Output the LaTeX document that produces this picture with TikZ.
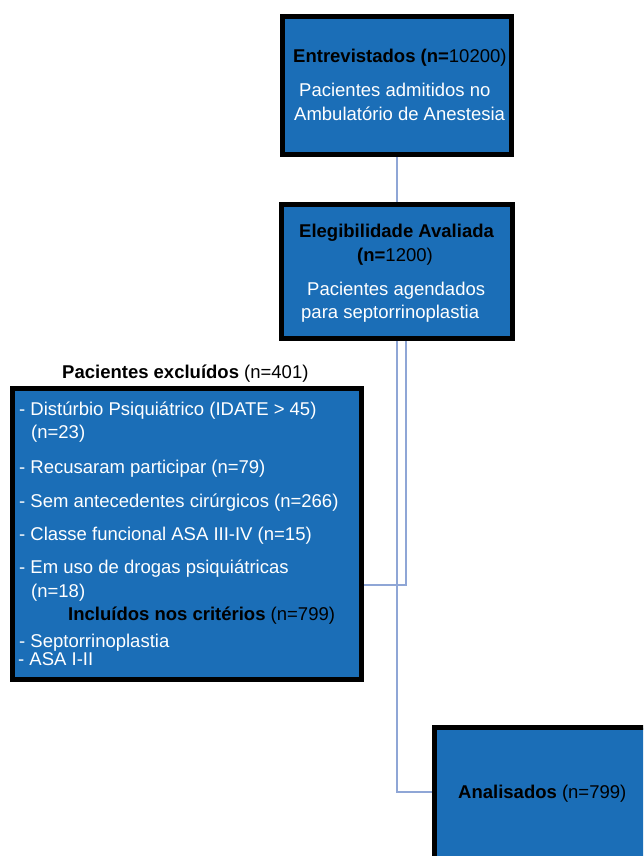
\documentclass[tikz,border=0pt]{standalone}
\usepackage{fontspec}
\setmainfont{Liberation Sans}
\usetikzlibrary{backgrounds}
\definecolor{boxblue}{RGB}{27,110,183}
\definecolor{linkblue}{RGB}{143,166,214}
\begin{document}
\begin{tikzpicture}[x=1pt,y=-1pt,
  flowbox/.style={draw=black,line width=5pt,fill=boxblue,inner sep=0pt},
  wtxt/.style={anchor=base west,inner sep=0pt,text=white,font=\fontsize{18.5}{23}\selectfont},
  ktxt/.style={anchor=base west,inner sep=0pt,text=black,font=\fontsize{18.5}{23}\selectfont},
  link/.style={draw=linkblue,line width=1.2pt}]
\useasboundingbox (0,0) rectangle (643,856);
\clip (0,0) rectangle (643,856);
% boxes
\node[flowbox,minimum width=229pt,minimum height=138pt] (b1) at (397,85.5) {};
\node[flowbox,minimum width=231pt,minimum height=134pt] (b2) at (397,271.5) {};
\node[flowbox,minimum width=349pt,minimum height=291pt] (b3) at (187,534) {};
\node[flowbox,minimum width=300pt,minimum height=200pt] (b4) at (584.5,827.5) {};
% box 1 text
\node[ktxt] (t1a) at (293,63) {\textbf{Entrevistados (n=}10200)};
\node[wtxt] (t1b) at (299,97) {Pacientes admitidos no};
\node[wtxt] (t1c) at (294,121) {Ambulatório de Anestesia};
% box 2 text
\node[ktxt] (t2a) at (299,237) {\textbf{Elegibilidade Avaliada}};
\node[ktxt] (t2b) at (357,261) {\textbf{(n=}1200)};
\node[wtxt] (t2c) at (307,295) {Pacientes agendados};
\node[wtxt] (t2d) at (301,318) {para septorrinoplastia};
% box 3 text
\node[ktxt] (t3h) at (62,378) {\textbf{Pacientes excluídos} (n=401)};
\node[wtxt] (t3a) at (19,415) {- Distúrbio Psiquiátrico (IDATE > 45)};
\node[wtxt] (t3b) at (31,438) {(n=23)};
\node[wtxt] (t3c) at (19,473) {- Recusaram participar (n=79)};
\node[wtxt] (t3d) at (19,507) {- Sem antecedentes cirúrgicos (n=266)};
\node[wtxt] (t3e) at (19,540) {- Classe funcional ASA III-IV (n=15)};
\node[wtxt] (t3f) at (19,573) {- Em uso de drogas psiquiátricas};
\node[wtxt] (t3g) at (31,597) {(n=18)};
\node[ktxt] (t3i) at (68,620) {\textbf{Incluídos nos critérios} (n=799)};
\node[wtxt] (t3j) at (19,647) {- Septorrinoplastia};
\node[wtxt] (t3k) at (18,665) {- ASA I-II};
% box 4 text
\node[ktxt] (t4a) at (458,798) {\textbf{Analisados} (n=799)};
% connectors
\coordinate (j3) at (406,585);
\coordinate (j4) at (397,792);
\begin{scope}[on background layer]
\draw[link] (b1.south) -- (b2.north);
\draw[link] (b2.south) -- (j4) -- (j4 -| b4.west);
\draw[link] ([xshift=9pt]b2.south) -- (j3) -- (j3 -| b3.east);
\end{scope}
\end{tikzpicture}
\end{document}
